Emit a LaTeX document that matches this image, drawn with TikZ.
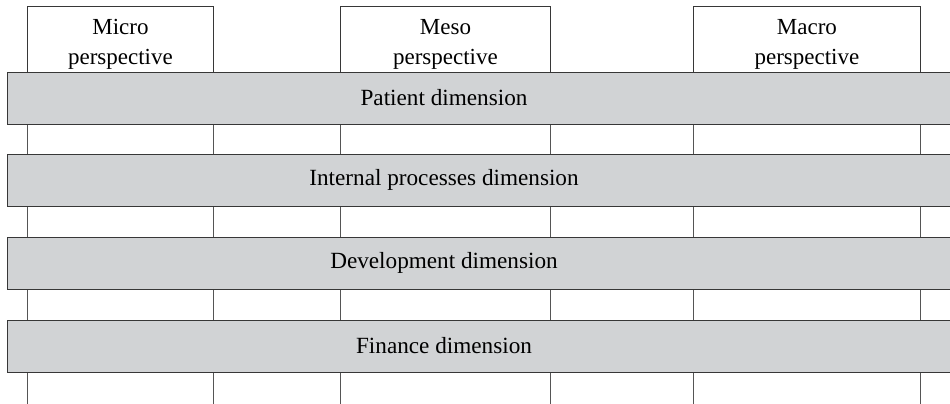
\documentclass[tikz,border=0pt]{standalone}
\usepackage{fontspec}
\setmainfont{Liberation Serif}
\usetikzlibrary{positioning}
\definecolor{bandGray}{RGB}{209,211,213}
\definecolor{edgeGray}{RGB}{55,55,55}
\definecolor{lineGray}{RGB}{85,85,85}

\tikzset{
  persp/.style={draw=edgeGray,line width=0.9pt,fill=white,anchor=north west,
    minimum height=66pt,inner sep=0pt},
  persptext/.style={inner sep=0pt,align=center,yshift=-4.5pt,
    font=\fontsize{23}{30}\selectfont},
  band/.style={draw=edgeGray,line width=0.9pt,fill=bandGray,anchor=north west,
    minimum width=945pt,minimum height=51.5pt,inner sep=0pt},
  bandtext/.style={inner sep=0pt,font=\fontsize{23.2}{27}\selectfont},
  colline/.style={draw=lineGray,line width=0.9pt}
}

\begin{document}
\begin{tikzpicture}[x=1pt,y=-1pt]
\useasboundingbox (0,0) rectangle (950,404);
\coordinate (floor) at (0,406);

% the three perspectives on top
\node[persp,minimum width=186pt,label={[persptext]center:Micro\\perspective}] (micro) at (27,6) {};
\node[persp,minimum width=210pt,label={[persptext]center:Meso\\perspective}] (meso) at (340,6) {};
\node[persp,minimum width=227pt,label={[persptext]center:Macro\\perspective}] (macro) at (693,6) {};

% column lines run down behind the bands
\foreach \n in {micro,meso,macro} {
  \draw[colline] (\n.south west) -- (\n.south west |- floor);
  \draw[colline] (\n.south east) -- (\n.south east |- floor);
}

% dimension bands
\foreach \y/\name/\txt in {72/patient/Patient dimension,
    154/internal/Internal processes dimension,
    237/develop/Development dimension,
    320/finance/Finance dimension} {
  \node[band] (\name) at (7,\y) {};
  \node[bandtext] (\name-txt) at (444,\y+25.5) {\txt};
}
\end{tikzpicture}
\end{document}
